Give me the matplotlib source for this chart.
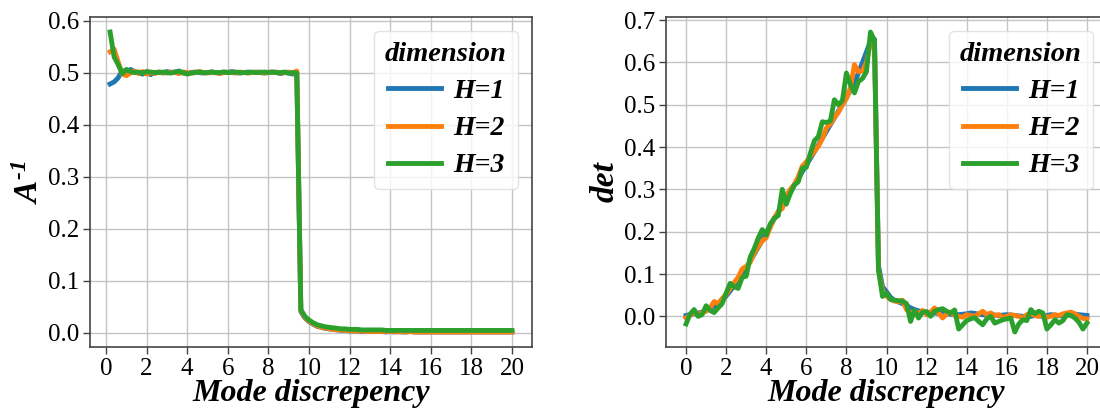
import numpy as np
import matplotlib
matplotlib.use('Agg')
import matplotlib.pyplot as plt

plt.rcParams['font.family'] = ['Liberation Serif', 'DejaVu Serif']
plt.rcParams['mathtext.fontset'] = 'custom'
plt.rcParams['mathtext.bf'] = 'Liberation Serif:italic:bold'

labels = ['H=1', 'H=2', 'H=3']
colors = ['#1f77b4', '#ff7f0e', '#2ca02c']

# left panel: A^-1 vs mode discrepency (x = 0.2 .. 20, step 0.2)
x_inv = np.round(np.arange(1, 101) * 0.2, 2)

inv_h1 = [0.478, 0.482, 0.490, 0.504, 0.497, 0.506, 0.502, 0.499, 0.497, 0.501,
          0.496, 0.500, 0.501, 0.499, 0.502, 0.500, 0.501, 0.503, 0.499, 0.498,
          0.500, 0.501, 0.500, 0.499, 0.500, 0.501, 0.500, 0.499, 0.501, 0.500,
          0.502, 0.500, 0.499, 0.500, 0.501, 0.500, 0.500, 0.501, 0.499, 0.500,
          0.501, 0.500, 0.498, 0.500, 0.499, 0.497, 0.499] + \
         [0.040, 0.028, 0.021, 0.016, 0.012, 0.010, 0.008, 0.007, 0.006, 0.005,
          0.004, 0.004, 0.003, 0.003, 0.003, 0.002, 0.002, 0.002, 0.002, 0.002,
          0.002, 0.001, 0.002, 0.001, 0.002, 0.001, 0.001, 0.002, 0.001, 0.001,
          0.001, 0.001, 0.001, 0.001, 0.001, 0.001, 0.001, 0.001, 0.001, 0.001,
          0.001, 0.001, 0.001, 0.001, 0.001, 0.001, 0.001, 0.001, 0.001, 0.001,
          0.001, 0.001, 0.001]
inv_h2 = [0.540, 0.545, 0.520, 0.497, 0.494, 0.499, 0.503, 0.498, 0.502, 0.497,
          0.500, 0.498, 0.501, 0.500, 0.499, 0.501, 0.500, 0.498, 0.501, 0.500,
          0.499, 0.500, 0.502, 0.500, 0.499, 0.501, 0.500, 0.498, 0.500, 0.501,
          0.500, 0.499, 0.501, 0.500, 0.499, 0.500, 0.501, 0.500, 0.499, 0.501,
          0.500, 0.501, 0.499, 0.500, 0.501, 0.499, 0.503] + \
         [0.042, 0.029, 0.022, 0.017, 0.013, 0.010, 0.009, 0.007, 0.006, 0.005,
          0.005, 0.004, 0.004, 0.003, 0.003, 0.003, 0.002, 0.002, 0.002, 0.002,
          0.002, 0.002, 0.002, 0.002, 0.001, 0.002, 0.001, 0.002, 0.001, 0.001,
          0.001, 0.001, 0.001, 0.001, 0.001, 0.001, 0.001, 0.001, 0.001, 0.001,
          0.001, 0.001, 0.001, 0.001, 0.001, 0.001, 0.001, 0.001, 0.001, 0.001,
          0.001, 0.001, 0.001]
inv_h3 = [0.578, 0.530, 0.515, 0.498, 0.506, 0.502, 0.500, 0.501, 0.499, 0.502,
          0.501, 0.500, 0.500, 0.501, 0.500, 0.499, 0.501, 0.502, 0.500, 0.497,
          0.499, 0.500, 0.501, 0.500, 0.500, 0.501, 0.500, 0.500, 0.501, 0.500,
          0.500, 0.501, 0.500, 0.500, 0.500, 0.501, 0.500, 0.500, 0.501, 0.500,
          0.501, 0.500, 0.500, 0.501, 0.499, 0.500, 0.499] + \
         [0.044, 0.031, 0.024, 0.019, 0.015, 0.013, 0.011, 0.010, 0.009, 0.008,
          0.007, 0.007, 0.006, 0.006, 0.006, 0.005, 0.005, 0.005, 0.005, 0.005,
          0.005, 0.004, 0.004, 0.004, 0.004, 0.004, 0.004, 0.004, 0.004, 0.004,
          0.004, 0.004, 0.004, 0.004, 0.004, 0.004, 0.004, 0.004, 0.004, 0.004,
          0.004, 0.004, 0.004, 0.004, 0.004, 0.004, 0.004, 0.004, 0.004, 0.004,
          0.004, 0.004, 0.004]

# right panel: det vs mode discrepency (x = 0 .. 20, step 0.2)
x_det = np.round(np.arange(0, 101) * 0.2, 2)

det_h1 = [0.002, 0.004, 0.006, 0.008, 0.010, 0.014, 0.018, 0.024, 0.030, 0.038,
          0.048, 0.060, 0.072, 0.085, 0.100, 0.115, 0.130, 0.147, 0.163, 0.180,
          0.198, 0.214, 0.230, 0.246, 0.262, 0.278, 0.294, 0.310, 0.326, 0.342,
          0.358, 0.373, 0.389, 0.405, 0.421, 0.437, 0.453, 0.469, 0.485, 0.501,
          0.517, 0.535, 0.553, 0.575, 0.600, 0.625, 0.650, 0.655, 0.120, 0.070,
          0.058, 0.045, 0.038, 0.034, 0.030, 0.026, 0.020, 0.016, 0.013, 0.011,
          0.010, 0.009, 0.008, 0.007, 0.007, 0.006, 0.005, 0.004, 0.004, 0.005,
          0.006, 0.008, 0.007, 0.005, 0.004, 0.003, 0.004, 0.003, 0.002, 0.003,
          0.004, 0.003, 0.002, 0.001, 0.000, -0.002, 0.000, 0.002, 0.001, 0.000,
          0.002, 0.004, 0.003, 0.001, 0.002, 0.003, 0.004, 0.005, 0.004, 0.003,
          0.002]
det_h2 = [-0.004, 0.003, 0.008, 0.004, 0.010, 0.012, 0.020, 0.035, 0.030, 0.042,
          0.052, 0.066, 0.080, 0.092, 0.112, 0.118, 0.128, 0.150, 0.165, 0.178,
          0.186, 0.210, 0.232, 0.248, 0.255, 0.285, 0.300, 0.312, 0.330, 0.355,
          0.365, 0.378, 0.390, 0.402, 0.420, 0.445, 0.455, 0.470, 0.482, 0.500,
          0.515, 0.540, 0.595, 0.578, 0.580, 0.600, 0.645, 0.650, 0.110, 0.060,
          0.048, 0.040, 0.036, 0.034, 0.038, 0.016, 0.008, 0.012, 0.006, 0.014,
          0.004, 0.010, 0.020, 0.008, -0.004, 0.006, 0.010, 0.002, 0.000, -0.002,
          0.004, 0.002, 0.000, 0.006, 0.012, 0.004, 0.008, 0.002, 0.004, -0.002,
          0.000, 0.004, 0.002, 0.000, -0.004, 0.004, 0.006, 0.002, 0.000, 0.004,
          -0.002, 0.000, 0.004, 0.002, 0.006, 0.008, 0.010, 0.006, 0.000, -0.005,
          -0.006]
det_h3 = [-0.018, 0.005, 0.016, 0.000, 0.004, 0.025, 0.014, 0.009, 0.020, 0.030,
          0.055, 0.078, 0.070, 0.066, 0.092, 0.095, 0.140, 0.160, 0.185, 0.205,
          0.192, 0.218, 0.232, 0.238, 0.300, 0.265, 0.290, 0.310, 0.318, 0.350,
          0.352, 0.385, 0.415, 0.425, 0.460, 0.458, 0.462, 0.512, 0.500, 0.510,
          0.575, 0.548, 0.528, 0.555, 0.562, 0.578, 0.672, 0.652, 0.110, 0.047,
          0.055, 0.040, 0.038, 0.037, 0.036, 0.030, -0.012, 0.014, -0.004, 0.010,
          0.011, 0.000, 0.012, 0.016, 0.018, 0.012, 0.008, 0.015, -0.030, -0.020,
          -0.010, -0.006, -0.003, -0.012, -0.020, -0.006, 0.000, -0.016, -0.012, -0.008,
          -0.006, -0.004, -0.037, -0.018, -0.008, -0.010, 0.016, 0.006, 0.012, 0.008,
          -0.030, -0.020, -0.008, -0.016, -0.010, 0.004, 0.002, -0.004, -0.014, -0.030,
          -0.016]

W, H = 1100, 413
fig = plt.figure(figsize=(W / 100, H / 100), dpi=100)
ax1 = fig.add_axes([90 / W, (H - 347) / H, 442 / W, 330 / H])
ax2 = fig.add_axes([666 / W, (H - 347) / H, 441 / W, 330 / H])

bi = {'style': 'italic', 'weight': 'bold'}


def style_axes(ax):
    ax.grid(True, color='#c4c4c4', lw=1.0)
    ax.set_axisbelow(True)
    for s in ax.spines.values():
        s.set_color('#444444')
        s.set_linewidth(1.2)
    ax.tick_params(labelsize=18, length=5, width=1.0, color='#444444', pad=3)
    ax.set_xticks(np.arange(0, 21, 2))
    ax.set_xlabel('Mode discrepency', fontsize=23, labelpad=-1, **bi)
    ax.legend(title='dimension', loc='upper right',
              prop={'size': 20, **bi}, title_fontproperties={'size': 20.5, **bi},
              handlelength=1.9, handletextpad=0.45, labelspacing=0.42,
              borderpad=0.4, framealpha=0.8, edgecolor='#dddddd')


for ys, lab, c in zip([inv_h1, inv_h2, inv_h3], labels, colors):
    ax1.plot(x_inv, ys, color=c, lw=3.5, label=lab)
ax1.set_yticks(np.arange(0, 0.61, 0.1))
# short hyphen in the exponent, as in the original label
ax1.set_ylabel('$\\mathbf{A^{\u2010 1}}$'.replace(' ', ''), fontsize=24, labelpad=2)
style_axes(ax1)

for ys, lab, c in zip([det_h1, det_h2, det_h3], labels, colors):
    ax2.plot(x_det, ys, color=c, lw=3.5, label=lab)
ax2.set_yticks(np.arange(0, 0.71, 0.1))
ax2.set_ylabel('det', fontsize=24, labelpad=2, **bi)
style_axes(ax2)

fig.savefig('out.png', dpi=100)
